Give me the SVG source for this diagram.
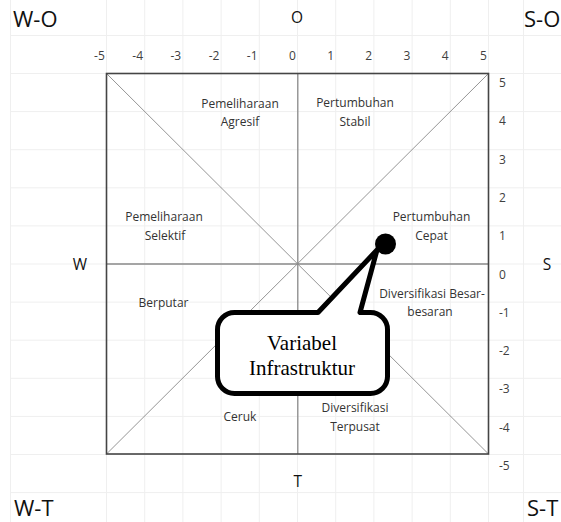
<svg xmlns="http://www.w3.org/2000/svg" width="561" height="522" viewBox="0 0 561 522">
<style>
.grid line{stroke:#efefef;stroke-width:1}
.frame{fill:none;stroke:#454545;stroke-width:1.6}
.axis{stroke:#8a8a8a;stroke-width:1.3}
.diag{stroke:#7a7a7a;stroke-width:0.8}
.num{font-family:"Open Sans","Liberation Sans",sans-serif;font-size:12px;fill:#404040}
.lbl{font-family:"Open Sans","Liberation Sans",sans-serif;font-size:12px;fill:#333;text-anchor:middle}
.big{font-family:"Open Sans","Liberation Sans",sans-serif;font-size:22px;fill:#111}
.mid{font-family:"Open Sans","Liberation Sans",sans-serif;font-size:15.5px;fill:#111;text-anchor:middle}
.cap{font-family:"Liberation Serif","Times New Roman",serif;font-size:21px;fill:#000;text-anchor:middle}
</style>
<rect width="561" height="522" fill="#fff"/>
<g class="grid">
<line x1="10.5" y1="0" x2="10.5" y2="522"/>
<line x1="106.5" y1="0" x2="106.5" y2="522"/>
<line x1="144.7" y1="0" x2="144.7" y2="522"/>
<line x1="182.9" y1="0" x2="182.9" y2="522"/>
<line x1="221.1" y1="0" x2="221.1" y2="522"/>
<line x1="259.3" y1="0" x2="259.3" y2="522"/>
<line x1="297.5" y1="0" x2="297.5" y2="522"/>
<line x1="335.7" y1="0" x2="335.7" y2="522"/>
<line x1="373.9" y1="0" x2="373.9" y2="522"/>
<line x1="412.1" y1="0" x2="412.1" y2="522"/>
<line x1="450.3" y1="0" x2="450.3" y2="522"/>
<line x1="488.5" y1="0" x2="488.5" y2="522"/>
<line x1="523.5" y1="0" x2="523.5" y2="522"/>
<line x1="10.5" y1="35.5" x2="561" y2="35.5"/>
<line x1="10.5" y1="73.5" x2="561" y2="73.5"/>
<line x1="10.5" y1="111.6" x2="561" y2="111.6"/>
<line x1="10.5" y1="149.7" x2="561" y2="149.7"/>
<line x1="10.5" y1="187.8" x2="561" y2="187.8"/>
<line x1="10.5" y1="225.9" x2="561" y2="225.9"/>
<line x1="10.5" y1="264" x2="561" y2="264"/>
<line x1="10.5" y1="302.1" x2="561" y2="302.1"/>
<line x1="10.5" y1="340.2" x2="561" y2="340.2"/>
<line x1="10.5" y1="378.3" x2="561" y2="378.3"/>
<line x1="10.5" y1="416.4" x2="561" y2="416.4"/>
<line x1="10.5" y1="454.5" x2="561" y2="454.5"/>
<line x1="10.5" y1="492.6" x2="561" y2="492.6"/>
</g>
<g id="chart">
<line class="diag" x1="106.5" y1="73.5" x2="488.5" y2="454"/>
<line class="diag" x1="488.5" y1="73.5" x2="106.5" y2="454"/>
<line class="axis" x1="106.5" y1="264" x2="488.5" y2="264"/>
<line class="axis" x1="297.8" y1="73.5" x2="297.8" y2="454"/>
<rect class="frame" x="106.5" y="73.5" width="382" height="380.5"/>
</g>
<g id="top-axis" class="num" text-anchor="end">
<text x="104.8" y="60">-5</text>
<text x="143" y="60">-4</text>
<text x="181.2" y="60">-3</text>
<text x="219.4" y="60">-2</text>
<text x="257.6" y="60">-1</text>
<text x="295.8" y="60">0</text>
<text x="334" y="60">1</text>
<text x="372.2" y="60">2</text>
<text x="410.4" y="60">3</text>
<text x="448.6" y="60">4</text>
<text x="486.8" y="60">5</text>
</g>
<g id="right-axis" class="num">
<text x="499" y="87">5</text>
<text x="499" y="125.3">4</text>
<text x="499" y="163.6">3</text>
<text x="499" y="201.9">2</text>
<text x="499" y="240.2">1</text>
<text x="499" y="278.5">0</text>
<text x="499" y="316.8">-1</text>
<text x="499" y="355.1">-2</text>
<text x="499" y="393.4">-3</text>
<text x="499" y="431.7">-4</text>
<text x="499" y="470">-5</text>
</g>
<g id="corners">
<text class="big" x="13" y="27">W-O</text>
<text class="big" x="524" y="27">S-O</text>
<text class="big" x="14" y="516">W-T</text>
<text class="big" x="527" y="516">S-T</text>
<text class="mid" x="297" y="22.7">O</text>
<text class="mid" x="80" y="270">W</text>
<text class="mid" x="547" y="270">S</text>
<text class="mid" x="297.7" y="486.5">T</text>
</g>
<g id="regions" class="lbl">
<g id="pemeliharaan-agresif"><text x="240" y="107.5">Pemeliharaan</text><text x="240" y="126">Agresif</text></g>
<g id="pertumbuhan-stabil"><text x="355" y="107">Pertumbuhan</text><text x="355" y="126">Stabil</text></g>
<g id="pemeliharaan-selektif"><text x="164" y="221">Pemeliharaan</text><text x="165" y="240">Selektif</text></g>
<g id="pertumbuhan-cepat"><text x="431.5" y="221">Pertumbuhan</text><text x="431.5" y="240">Cepat</text></g>
<g id="diversifikasi-besar"><text x="432" y="297.5">Diversifikasi Besar-</text><text x="430" y="316">besaran</text></g>
<g id="berputar"><text x="163.5" y="306.5">Berputar</text></g>
<g id="ceruk"><text x="240" y="421">Ceruk</text></g>
<g id="diversifikasi-terpusat"><text x="355" y="412">Diversifikasi</text><text x="355" y="431">Terpusat</text></g>
</g>
<g id="callout">
<path d="M318,312.5 L377,250 L360,312.5 L370.5,312.5 A17,17 0 0 1 387.5,329.5 L387.5,376.5 A17,17 0 0 1 370.5,393.5 L234.5,393.5 A17,17 0 0 1 217.5,376.5 L217.5,329.5 A17,17 0 0 1 234.5,312.5 Z" fill="#fff" stroke="#000" stroke-width="5" stroke-linejoin="round"/>
<circle cx="385.5" cy="244" r="10.5" fill="#000"/>
<text class="cap" x="302" y="350">Variabel</text>
<text class="cap" x="302" y="375">Infrastruktur</text>
</g>
</svg>
